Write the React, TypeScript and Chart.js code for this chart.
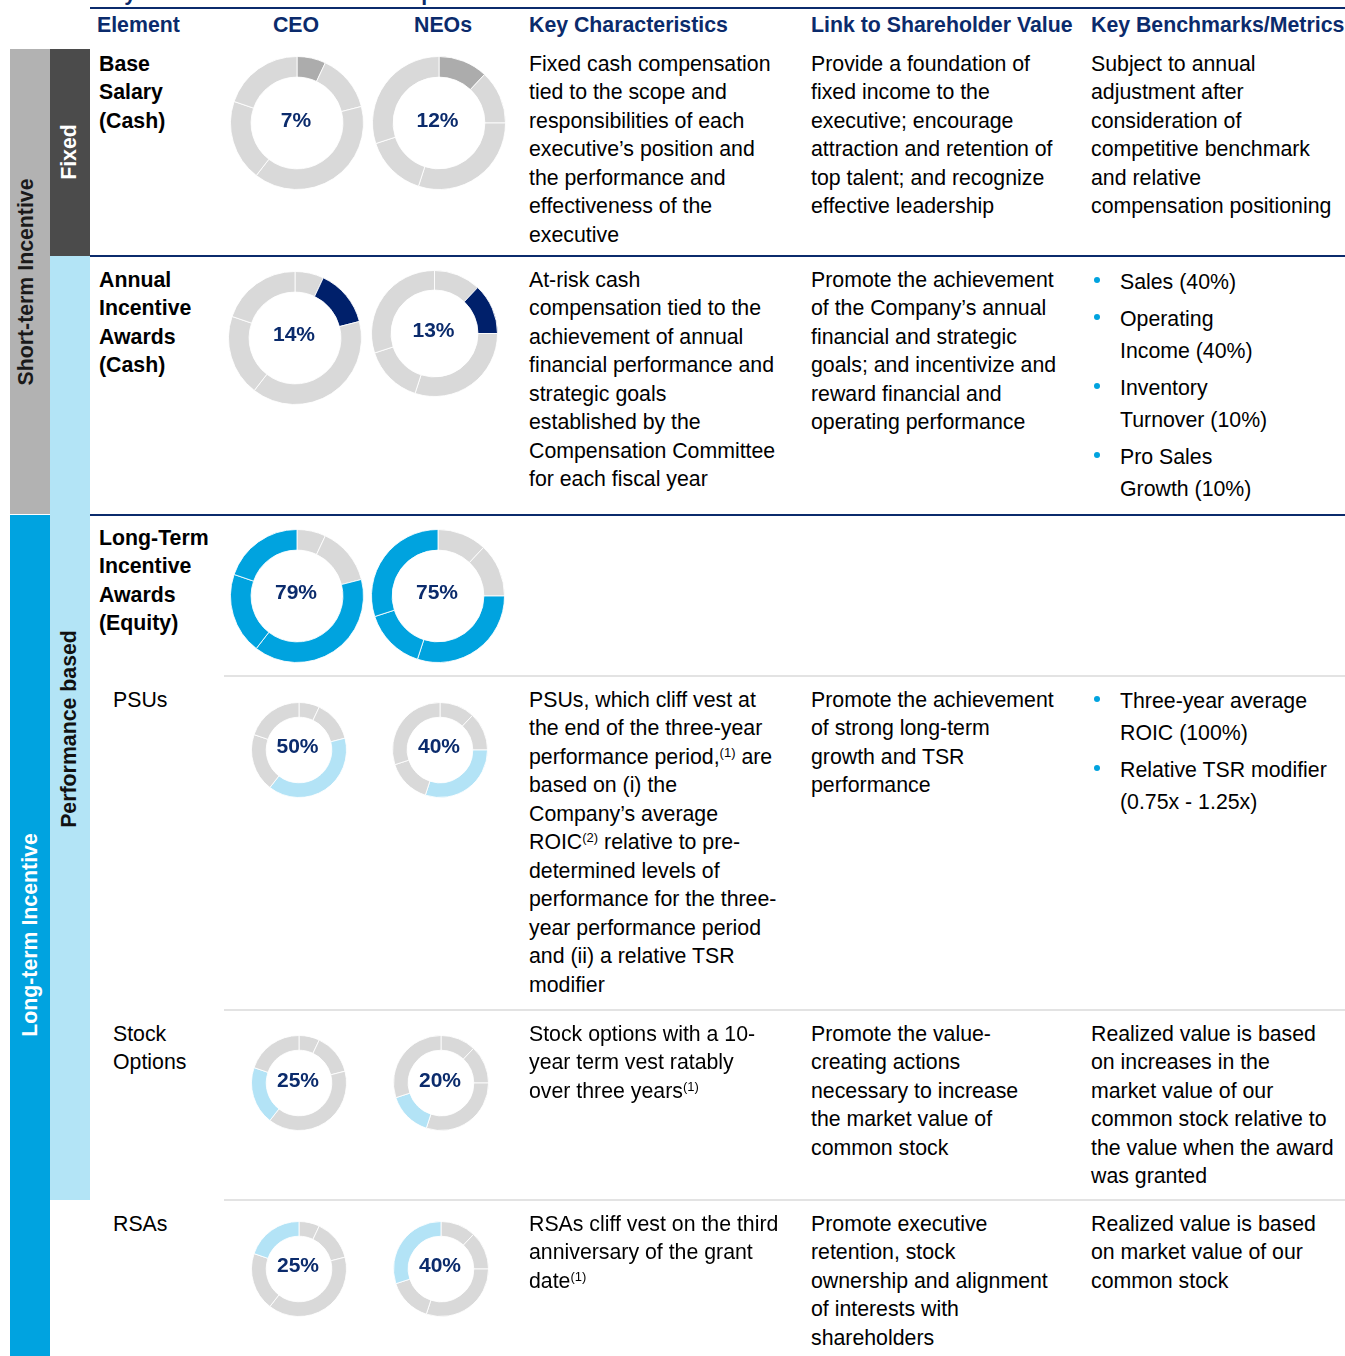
import React, { useEffect, useRef } from "react";
import { Chart, registerables } from "chart.js";

Chart.register(...registerables);

// ---------- data ----------
const segments = ["Base Salary", "Annual Incentive", "PSUs", "Stock Options", "RSAs"];
const ceoPayMix = [7, 14, 79]; // base salary, annual incentive, long-term incentive (% of total)
const neoPayMix = [12, 13, 75];
const ceoLtiMix = [50, 25, 25]; // PSUs, stock options, RSAs (% of LTI)
const neoLtiMix = [40, 20, 40];

const columnHeaders = ["Element", "CEO", "NEOs", "Key Characteristics", "Link to Shareholder Value", "Key Benchmarks/Metrics"];

const toSlices = (pay: number[], lti: number[]) => [pay[0], pay[1], ...lti.map((s) => (pay[2] * s) / 100)];
const ceoSlices = toSlices(ceoPayMix, ceoLtiMix);
const neoSlices = toSlices(neoPayMix, neoLtiMix);

// ---------- style ----------
const FONT = '"Liberation Sans", Arial, Helvetica, sans-serif';
const FS = 21.3;
const LH = 28.45;
const NAVY = "#0b2b6c";
const SEG_GREY = "#d9d9d9";
const C_BASE = "#acacac";
const C_ANNUAL = "#00206b";
const C_LTI = "#00a3df";
const C_LIGHT = "#b3e3f6";

type DonutProps = { cx: number; cy: number; r: number; data: number[]; highlight: number[]; color: string; label: string };

function Donut({ cx, cy, r, data, highlight, color, label }: DonutProps) {
  const ref = useRef<HTMLCanvasElement>(null);
  const size = Math.round(2 * r + 2);
  useEffect(() => {
    const bg = data.map((_, i) => (highlight.includes(i) ? color : SEG_GREY));
    const chart = new Chart(ref.current as HTMLCanvasElement, {
      type: "doughnut",
      data: {
        labels: segments,
        datasets: [{ data, backgroundColor: bg, borderColor: "rgba(255,255,255,0.85)", borderWidth: 1, hoverOffset: 0 }],
      },
      options: {
        responsive: false,
        maintainAspectRatio: false,
        animation: false,
        cutout: "69%",
        events: [],
        layout: { padding: 0 },
        plugins: { legend: { display: false }, tooltip: { enabled: false } },
      },
    });
    return () => chart.destroy();
  }, []);
  return (
    <>
      <canvas
        ref={ref}
        width={size}
        height={size}
        style={{ position: "absolute", left: cx - size / 2, top: cy - size / 2, width: size, height: size }}
      />
      <div
        style={{
          position: "absolute",
          left: cx - 51,
          top: cy - 17.5,
          width: 100,
          textAlign: "center",
          fontFamily: FONT,
          fontWeight: "bold",
          fontSize: 21,
          lineHeight: "28px",
          color: NAVY,
        }}
      >
        {label}
      </div>
    </>
  );
}

function renderLine(s: string) {
  const parts = s.split(/\{(\d)\}/);
  return parts.map((p, i) =>
    i % 2 === 1 ? (
      <sup key={i} style={{ fontSize: 13, lineHeight: 0, verticalAlign: "7px" }}>
        ({p})
      </sup>
    ) : (
      <span key={i}>{p}</span>
    )
  );
}

function Text({ x, y, lines, bold, color }: { x: number; y: number; lines: string[]; bold?: boolean; color?: string }) {
  return (
    <div
      style={{
        position: "absolute",
        left: x,
        top: y - 14,
        fontFamily: FONT,
        fontSize: FS,
        lineHeight: LH + "px",
        fontWeight: bold ? "bold" : "normal",
        color: color || "#000",
        whiteSpace: "nowrap",
      }}
    >
      {lines.map((l, i) => (
        <div key={i}>{renderLine(l)}</div>
      ))}
    </div>
  );
}

function Bullets({ x, y, items }: { x: number; y: number; items: string[][] }) {
  return (
    <div style={{ position: "absolute", left: x, top: y - 16, fontFamily: FONT, fontSize: FS, lineHeight: "32px", color: "#000", whiteSpace: "nowrap" }}>
      {items.map((it, i) => (
        <div key={i} style={{ position: "relative", paddingLeft: 29, marginBottom: 5 }}>
          <span style={{ position: "absolute", left: 3, top: 10.5, width: 6, height: 6, borderRadius: 3, background: C_LTI }} />
          {it.map((l, j) => (
            <div key={j}>{l}</div>
          ))}
        </div>
      ))}
    </div>
  );
}

function Rot({ cx, cy, text, color, bold }: { cx: number; cy: number; text: string; color: string; bold?: boolean }) {
  return (
    <div
      style={{
        position: "absolute",
        left: cx,
        top: cy,
        transform: "translate(-50%, -50%) rotate(-90deg)",
        fontFamily: FONT,
        fontSize: FS,
        fontWeight: bold ? "bold" : "normal",
        color,
        whiteSpace: "nowrap",
        lineHeight: "24px",
      }}
    >
      {text}
    </div>
  );
}

const Rect = ({ x, y, w, h, c }: { x: number; y: number; w: number; h: number; c: string }) => (
  <div style={{ position: "absolute", left: x, top: y, width: w, height: h, background: c }} />
);

export default function App() {
  const pct = (v: number) => `${v}%`;
  return (
    <div style={{ position: "absolute", left: 0, top: 0, width: 1345, height: 1356, overflow: "hidden", background: "#fff" }}>
      {/* title, cut off at the top edge as in the source */}
      <div style={{ position: "absolute", left: 97, top: -21.5, fontFamily: FONT, fontSize: FS, lineHeight: "28.3px", fontWeight: "bold", color: NAVY, whiteSpace: "nowrap" }}>
        Key Elements of Executive Compensation
      </div>
      <Rect x={90} y={7} w={1255} h={2} c={NAVY} />

      {/* headers */}
      <Text x={97} y={25} lines={[columnHeaders[0]]} bold color={NAVY} />
      <div style={{ position: "absolute", left: 246, top: 11, width: 100, textAlign: "center", fontFamily: FONT, fontSize: FS, lineHeight: LH + "px", fontWeight: "bold", color: NAVY }}>
        {columnHeaders[1]}
      </div>
      <div style={{ position: "absolute", left: 393, top: 11, width: 100, textAlign: "center", fontFamily: FONT, fontSize: FS, lineHeight: LH + "px", fontWeight: "bold", color: NAVY }}>
        {columnHeaders[2]}
      </div>
      <Text x={529} y={25} lines={[columnHeaders[3]]} bold color={NAVY} />
      <Text x={811} y={25} lines={[columnHeaders[4]]} bold color={NAVY} />
      <Text x={1091} y={25} lines={[columnHeaders[5]]} bold color={NAVY} />

      {/* side bands */}
      <Rect x={10} y={49} w={40} h={465} c="#b2b2b2" />
      <Rect x={10} y={515} w={40} h={841} c="#00a3e0" />
      <Rect x={50} y={49} w={40} h={207} c="#4b4b4b" />
      <Rect x={50} y={256} w={40} h={944} c="#b3e4f6" />
      <Rot cx={26} cy={282} text="Short-term Incentive" color="#1a1a1a" bold />
      <Rot cx={30} cy={935} text="Long-term Incentive" color="#fff" bold />
      <Rot cx={69} cy={152} text="Fixed" color="#fff" bold />
      <Rot cx={69} cy={729} text="Performance based" color="#111" bold />

      {/* row separators */}
      <Rect x={90} y={255} w={1255} h={2} c={NAVY} />
      <Rect x={90} y={514} w={1255} h={2} c={NAVY} />
      <Rect x={224} y={675} w={1121} h={2} c="#e3e3e3" />
      <Rect x={224} y={1009} w={1121} h={2} c="#e3e3e3" />
      <Rect x={224} y={1199} w={1121} h={2} c="#e3e3e3" />

      {/* Row 1: Base salary */}
      <Text x={99} y={64} lines={["Base", "Salary", "(Cash)"]} bold />
      <Donut cx={297} cy={123} r={66} data={ceoSlices} highlight={[0]} color={C_BASE} label={pct(ceoPayMix[0])} />
      <Donut cx={438.5} cy={123} r={66} data={neoSlices} highlight={[0]} color={C_BASE} label={pct(neoPayMix[0])} />
      <Text
        x={529}
        y={64}
        lines={["Fixed cash compensation", "tied to the scope and", "responsibilities of each", "executive’s position and", "the performance and", "effectiveness of the", "executive"]}
      />
      <Text
        x={811}
        y={64}
        lines={["Provide a foundation of", "fixed income to the", "executive; encourage", "attraction and retention of", "top talent; and recognize", "effective leadership"]}
      />
      <Text
        x={1091}
        y={64}
        lines={["Subject to annual", "adjustment after", "consideration of", "competitive benchmark", "and relative", "compensation positioning"]}
      />

      {/* Row 2: Annual incentive */}
      <Text x={99} y={280} lines={["Annual", "Incentive", "Awards", "(Cash)"]} bold />
      <Donut cx={295} cy={337.5} r={66} data={ceoSlices} highlight={[1]} color={C_ANNUAL} label={pct(ceoPayMix[1])} />
      <Donut cx={434.5} cy={333.5} r={62.5} data={neoSlices} highlight={[1]} color={C_ANNUAL} label={pct(neoPayMix[1])} />
      <Text
        x={529}
        y={280}
        lines={["At-risk cash", "compensation tied to the", "achievement of annual", "financial performance and", "strategic goals", "established by the", "Compensation Committee", "for each fiscal year"]}
      />
      <Text
        x={811}
        y={280}
        lines={["Promote the achievement", "of the Company’s annual", "financial and strategic", "goals; and incentivize and", "reward financial and", "operating performance"]}
      />
      <Bullets x={1091} y={282} items={[["Sales (40%)"], ["Operating", "Income (40%)"], ["Inventory", "Turnover (10%)"], ["Pro Sales", "Growth (10%)"]]} />

      {/* Row 3: LTI */}
      <Text x={99} y={538} lines={["Long-Term", "Incentive", "Awards", "(Equity)"]} bold />
      <Donut cx={297} cy={595.5} r={66} data={ceoSlices} highlight={[2, 3, 4]} color={C_LTI} label={pct(ceoPayMix[2])} />
      <Donut cx={438} cy={595.5} r={66} data={neoSlices} highlight={[2, 3, 4]} color={C_LTI} label={pct(neoPayMix[2])} />

      {/* PSUs */}
      <Text x={113} y={700} lines={["PSUs"]} />
      <Donut cx={298.5} cy={749.5} r={47} data={ceoSlices} highlight={[2]} color={C_LIGHT} label={pct(ceoLtiMix[0])} />
      <Donut cx={440} cy={749.5} r={47} data={neoSlices} highlight={[2]} color={C_LIGHT} label={pct(neoLtiMix[0])} />
      <Text
        x={529}
        y={700}
        lines={[
          "PSUs, which cliff vest at",
          "the end of the three-year",
          "performance period,{1} are",
          "based on (i) the",
          "Company’s average",
          "ROIC{2} relative to pre-",
          "determined levels of",
          "performance for the three-",
          "year performance period",
          "and (ii) a relative TSR",
          "modifier",
        ]}
      />
      <Text x={811} y={700} lines={["Promote the achievement", "of strong long-term", "growth and TSR", "performance"]} />
      <Bullets x={1091} y={701} items={[["Three-year average", "ROIC (100%)"], ["Relative TSR modifier", "(0.75x - 1.25x)"]]} />

      {/* Stock options */}
      <Text x={113} y={1034} lines={["Stock", "Options"]} />
      <Donut cx={299} cy={1083} r={47} data={ceoSlices} highlight={[3]} color={C_LIGHT} label={pct(ceoLtiMix[1])} />
      <Donut cx={441} cy={1083} r={47} data={neoSlices} highlight={[3]} color={C_LIGHT} label={pct(neoLtiMix[1])} />
      <Text x={529} y={1034} lines={["Stock options with a 10-", "year term vest ratably", "over three years{1}"]} />
      <Text x={811} y={1034} lines={["Promote the value-", "creating actions", "necessary to increase", "the market value of", "common stock"]} />
      <Text
        x={1091}
        y={1034}
        lines={["Realized value is based", "on increases in the", "market value of our", "common stock relative to", "the value when the award", "was granted"]}
      />

      {/* RSAs */}
      <Text x={113} y={1224} lines={["RSAs"]} />
      <Donut cx={299} cy={1268.5} r={47} data={ceoSlices} highlight={[4]} color={C_LIGHT} label={pct(ceoLtiMix[2])} />
      <Donut cx={441} cy={1268.5} r={47} data={neoSlices} highlight={[4]} color={C_LIGHT} label={pct(neoLtiMix[2])} />
      <Text x={529} y={1224} lines={["RSAs cliff vest on the third", "anniversary of the grant", "date{1}"]} />
      <Text x={811} y={1224} lines={["Promote executive", "retention, stock", "ownership and alignment", "of interests with", "shareholders"]} />
      <Text x={1091} y={1224} lines={["Realized value is based", "on market value of our", "common stock"]} />
    </div>
  );
}
